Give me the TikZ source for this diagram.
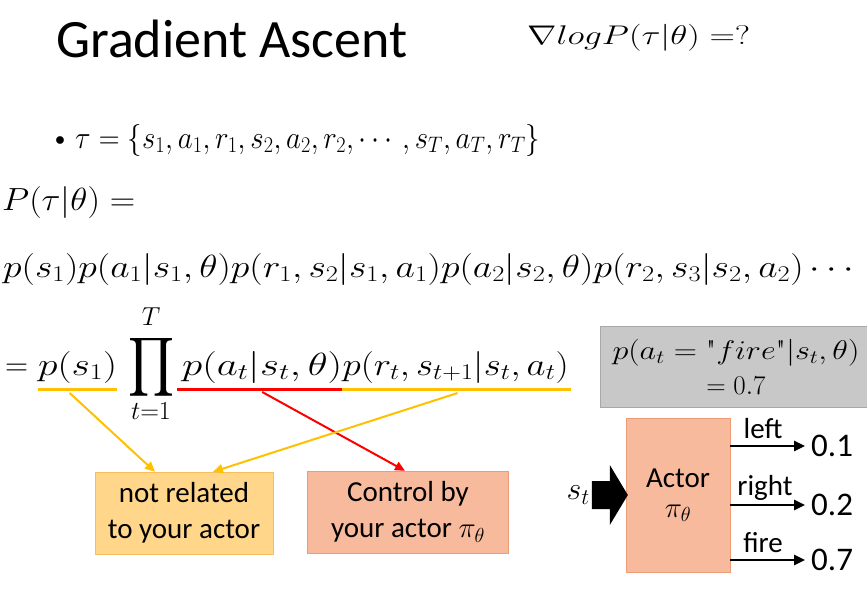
\RequirePackage{fix-cm}
\documentclass[tikz,border=0pt]{standalone}
\usepackage{amsmath}
\usepackage{graphicx}
\usepackage[no-math]{fontspec}
\newfontfamily\slidefont{Carlito}
\usetikzlibrary{arrows.meta,positioning}

\definecolor{lineyellow}{HTML}{FFC000}
\definecolor{linered}{HTML}{FF0000}
\definecolor{paleorange}{HTML}{FFD68A}
\definecolor{paleorangeedge}{HTML}{F7BE5A}
\definecolor{salmon}{HTML}{F8BA9C}
\definecolor{salmonedge}{HTML}{EE9C78}
\definecolor{slidegray}{HTML}{C8C8C8}
\definecolor{slidegrayedge}{HTML}{A8A8A8}

% math stretched to a given width, height kept
\newcommand{\wmath}[2]{\resizebox{#1}{\height}{$#2$}}

\begin{document}
\begin{tikzpicture}[x=1pt,y=-1pt,
    formula/.style={anchor=base west,inner sep=0pt,font=\fontsize{32}{38}\selectfont},
    slidetext/.style={font=\slidefont\fontsize{29}{36}\selectfont},
    box/.style={slidetext,align=center,inner sep=0pt},
    underline/.style={line width=3pt},
    pointer/.style={line width=2pt,-{Triangle[length=10pt,width=9pt]}},
    output/.style={line width=2.5pt,-{Triangle[length=11pt,width=10pt]}}]
    \useasboundingbox[fill=white] (0,0) rectangle (867,589);

    % heading
    \node[anchor=base west,inner sep=0pt,font=\slidefont\fontsize{54}{60}\selectfont] (title) at (56,57) {Gradient Ascent};
    \node[formula,font=\fontsize{27}{32}\selectfont] (grad) at (527,44) {\wmath{223pt}{\nabla logP(\tau|\theta) =?}};

    % trajectory
    \node[inner sep=0pt,font=\fontsize{20}{24}\selectfont] (bullet) at (60,141) {$\bullet$};
    \node[formula] (traj) at (75,148) {\wmath{465pt}{\tau = \{s_1,a_1,r_1,s_2,a_2,r_2,\cdots,s_T,a_T,r_T\}}};
    \node[formula] (ptau) at (2,210) {\wmath{133pt}{P(\tau|\theta) =}};
    \node[formula] (chain) at (3,277) {\wmath{857pt}{p(s_1)p(a_1|s_1,\theta)p(r_1,s_2|s_1,a_1)p(a_2|s_2,\theta)p(r_2,s_3|s_2,a_2)\cdots}};

    % product form
    \node[formula] (eq) at (5,375) {$=$};
    \node[formula] (ps1) at (38,375) {\wmath{79pt}{p(s_1)}};
    \node[inner sep=0pt] (prod) at (151,367) {\resizebox*{46pt}{66pt}{$\displaystyle\prod$}};
    \node[above=8pt of prod,inner sep=0pt,font=\fontsize{26}{30}\selectfont] (prodtop) {$T$};
    \node[below=2pt of prod,inner sep=0pt,font=\fontsize{26}{30}\selectfont] (prodbot) {$t{=}1$};
    \node[formula] (policy) at (182,375) {\wmath{160pt}{p(a_t|s_t,\theta)}};
    \node[formula] (env) at (policy.base east) {\wmath{226pt}{p(r_t,s_{t+1}|s_t,a_t)}};

    \draw[underline,lineyellow] ([yshift=-14pt]ps1.base west) -- ([yshift=-14pt]ps1.base east);
    \draw[underline,linered] ([xshift=-5pt,yshift=-14pt]policy.base west) -- ([yshift=-14pt]policy.base east);
    \draw[underline,lineyellow] ([yshift=-14pt]env.base west) -- ([xshift=2pt,yshift=-14pt]env.base east);

    % what the terms depend on
    \node[box,fill=paleorange,draw=paleorangeedge,minimum width=178pt,minimum height=82pt] (unrelated) at (184,513) {not related\\to your actor};
    \node[box,fill=salmon,draw=salmonedge,minimum width=201pt,minimum height=82pt] (control) at (408,512) {Control by\\your actor $\pi_\theta$};

    \draw[pointer,lineyellow] ([xshift=-8pt,yshift=-18pt]ps1.base) -- ([xshift=-29pt]unrelated.north);
    \draw[pointer,linered] ([yshift=-17pt]policy.base) -- ([xshift=-3pt]control.north);
    \draw[pointer,lineyellow] ([xshift=2pt,yshift=-18pt]env.base) -- ([xshift=29pt]unrelated.north);

    % example
    \node[fill=slidegray,draw=slidegrayedge,minimum width=272pt,minimum height=81pt,align=center,inner sep=0pt,font=\fontsize{27}{35}\selectfont] (example) at (736,367) {\wmath{247pt}{p(a_t = \text{\textquotedbl}fire\text{\textquotedbl}|s_t,\theta)}\\$= 0.7$};

    % actor
    \node[box,fill=salmon,draw=salmonedge,minimum width=104pt,minimum height=154pt,font=\slidefont\fontsize{29}{30}\selectfont] (actor) at (678,495) {Actor\\$\pi_\theta$};
    \node[anchor=east,inner sep=0pt,font=\fontsize{32}{38}\selectfont] (st) at (590,495) {$s_t$};
    \fill ([xshift=-34pt,yshift=14pt]actor.west) -- ([xshift=-16pt,yshift=14pt]actor.west)
        -- ([xshift=-16pt,yshift=30pt]actor.west) -- ([xshift=2pt]actor.west)
        -- ([xshift=-16pt,yshift=-30pt]actor.west) -- ([xshift=-16pt,yshift=-14pt]actor.west)
        -- ([xshift=-34pt,yshift=-14pt]actor.west) -- cycle;

    \coordinate (outleft) at (805,446);
    \coordinate (outright) at (805,505);
    \coordinate (outfire) at (805,560);
    \draw[output] (actor.east |- outleft) -- (outleft);
    \draw[output] (actor.east |- outright) -- (outright);
    \draw[output] (actor.east |- outfire) -- (outfire);
    \node[slidetext,anchor=base,inner sep=0pt] (lleft) at ([xshift=-42pt,yshift=8pt]outleft) {left};
    \node[slidetext,anchor=base,inner sep=0pt] (lright) at ([xshift=-40pt,yshift=10pt]outright) {right};
    \node[slidetext,anchor=base,inner sep=0pt] (lfire) at ([xshift=-42pt,yshift=8pt]outfire) {fire};
    \node[slidetext,anchor=west,inner sep=0pt,font=\slidefont\fontsize{33}{36}\selectfont] (vleft) at ([xshift=6pt]outleft) {0.1};
    \node[slidetext,anchor=west,inner sep=0pt,font=\slidefont\fontsize{33}{36}\selectfont] (vright) at ([xshift=6pt]outright) {0.2};
    \node[slidetext,anchor=west,inner sep=0pt,font=\slidefont\fontsize{33}{36}\selectfont] (vfire) at ([xshift=6pt]outfire) {0.7};
\end{tikzpicture}
\end{document}
